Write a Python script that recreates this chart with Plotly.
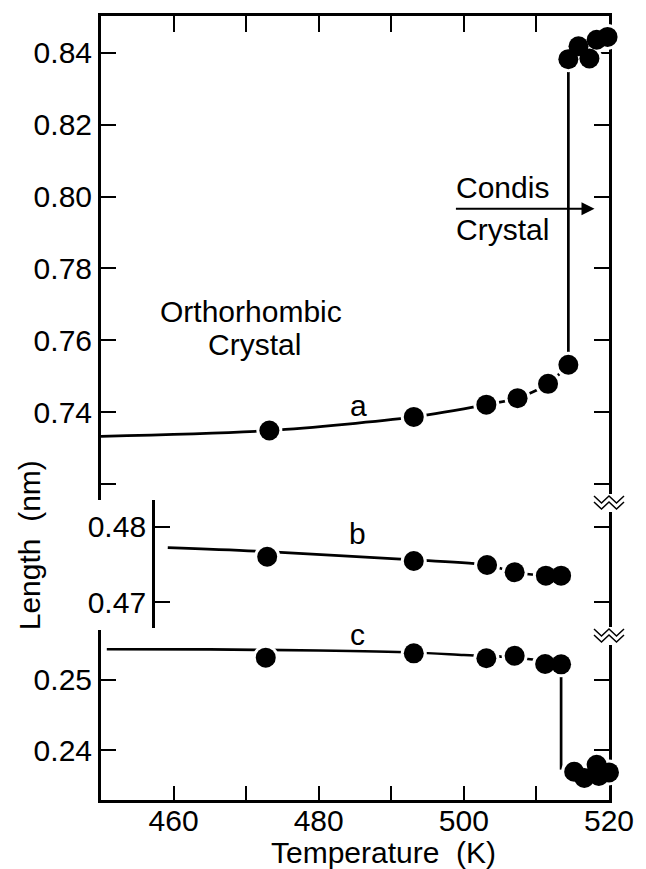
import plotly.graph_objects as go

# ---------------- data ----------------
# a-axis (top panel)
a_T = [473.2, 493.1, 503.1, 507.4, 511.6, 514.4]
a_len = [0.7349, 0.7387, 0.7421, 0.7439, 0.7479, 0.7532]
a_curve_T = [450.0, 473.2, 493.1, 503.1, 507.4, 511.6, 514.4]
a_curve_len = [0.7333, 0.7349, 0.7387, 0.7421, 0.7439, 0.7479, 0.7532]
a_condis_T = [514.4, 515.8, 517.3, 518.3, 519.8]
a_condis_len = [0.8382, 0.8418, 0.8384, 0.8436, 0.8444]
a_jump_T = [514.4, 514.4]
a_jump_len = [0.7532, 0.8382]

# b-axis (middle panel)
b_T = [472.9, 493.1, 503.2, 507.0, 511.3, 513.4]
b_len = [0.47603, 0.47546, 0.47493, 0.47397, 0.47352, 0.47352]
b_curve_T = [459.2, 472.9, 493.1, 503.2, 507.0, 511.3, 513.4]
b_curve_len = [0.47722, 0.47669, 0.47560, 0.47493, 0.47397, 0.47352, 0.47352]

# c-axis (bottom panel)
c_T = [472.7, 493.1, 503.1, 507.0, 511.2, 513.4]
c_len = [0.25319, 0.25381, 0.25310, 0.25347, 0.25229, 0.25224]
c_curve_T = [450.8, 465.0, 480.0, 493.0, 500.0, 507.0, 511.0, 513.4]
c_curve_len = [0.25439, 0.25436, 0.25421, 0.25393, 0.25357, 0.25321, 0.25271, 0.25229]
c_condis_T = [515.2, 516.6, 518.3, 518.6, 520.0]
c_condis_len = [0.2369, 0.2360, 0.2379, 0.2363, 0.2368]
c_jump_T = [513.4, 513.4]
c_jump_len = [0.25224, 0.2372]

x_ticks = [460, 470, 480, 490, 500, 510, 520]
x_ticktext = ["460", "", "480", "", "500", "", "520"]
a_ticks = [0.72, 0.74, 0.76, 0.78, 0.80, 0.82, 0.84]
a_ticktext = ["", "0.74", "0.76", "0.78", "0.80", "0.82", "0.84"]
b_ticks = [0.47, 0.48]
b_ticktext = ["0.47", "0.48"]
c_ticks = [0.24, 0.25]
c_ticktext = ["0.24", "0.25"]

# ---------------- style ----------------
FONT = "Liberation Sans, Arial, sans-serif"
FS = 30
LW = 2.7
MS = 20
HALO = 26

fig = go.Figure()


def add_panel(yax, curve_T, curve_v, pts_T, pts_v, jump_T=None, jump_v=None,
              cl_T=None, cl_v=None):
    fig.add_trace(go.Scatter(x=curve_T, y=curve_v, mode="lines", yaxis=yax,
                             line=dict(color="black", width=LW, shape="spline", smoothing=0.8),
                             hoverinfo="skip", showlegend=False, cliponaxis=False))
    if jump_T is not None:
        fig.add_trace(go.Scatter(x=jump_T, y=jump_v, mode="lines", yaxis=yax,
                                 line=dict(color="black", width=LW),
                                 hoverinfo="skip", showlegend=False, cliponaxis=False))
    allT = list(pts_T) + (list(cl_T) if cl_T else [])
    allv = list(pts_v) + (list(cl_v) if cl_v else [])
    fig.add_trace(go.Scatter(x=allT, y=allv, mode="markers", yaxis=yax,
                             marker=dict(color="white", size=HALO, line=dict(width=0)),
                             hoverinfo="skip", showlegend=False, cliponaxis=False))
    fig.add_trace(go.Scatter(x=allT, y=allv, mode="markers", yaxis=yax,
                             marker=dict(color="black", size=MS, line=dict(width=0)),
                             showlegend=False, cliponaxis=False))


add_panel("y", a_curve_T, a_curve_len, a_T, a_len, a_jump_T, a_jump_len,
          a_condis_T, a_condis_len)
add_panel("y2", b_curve_T, b_curve_len, b_T, b_len)
add_panel("y3", c_curve_T, c_curve_len, c_T, c_len, c_jump_T, c_jump_len,
          c_condis_T, c_condis_len)

# ---------------- layout ----------------
W, H = 646, 869
ml, mr, mt, mb = 101, 28, 16, 69
plot_h = H - mt - mb  # 784
plot_w = W - ml - mr  # 517


def py(pix):
    return (H - mb - pix) / plot_h


def px(pix):
    return (pix - ml) / plot_w


tickfont = dict(family=FONT, size=FS, color="black")
common_y = dict(showgrid=False, zeroline=False, showline=True, linecolor="black",
                linewidth=3, ticks="inside", ticklen=15, tickwidth=2,
                tickcolor="black", tickfont=tickfont, fixedrange=True)

fig.update_layout(
    width=W, height=H,
    margin=dict(l=ml, r=mr, t=mt, b=mb, pad=0),
    paper_bgcolor="white", plot_bgcolor="white",
    showlegend=False,
    font=dict(family=FONT, size=FS, color="black"),
    xaxis=dict(range=[450, 520], domain=[0, 1], anchor="y3", showgrid=False,
               zeroline=False, showline=True, linecolor="black", linewidth=3,
               ticks="inside", ticklen=14, tickwidth=2, tickcolor="black",
               tickvals=x_ticks, ticktext=x_ticktext, tickfont=tickfont,
               ticklabelstandoff=-8, fixedrange=True),
    xaxis2=dict(range=[450, 520], overlaying="x", anchor="y", side="top",
                showgrid=False, zeroline=False, showline=True, linecolor="black",
                linewidth=3, ticks="inside", ticklen=16, tickwidth=2,
                tickcolor="black", tickvals=x_ticks, showticklabels=False,
                fixedrange=True),
    yaxis=dict(common_y, domain=[py(500), 1.0], range=[0.71558, 0.85021],
               anchor="x", mirror="ticks", tickvals=a_ticks, ticktext=a_ticktext,
               layer="below traces"),
    yaxis2=dict(common_y, domain=[py(628), py(500)], range=[0.46660, 0.48353],
                anchor="free", position=px(154), tickvals=b_ticks,
                ticktext=b_ticktext),
    yaxis4=dict(common_y, overlaying="y2", side="right", anchor="x",
                range=[0.46660, 0.48353], tickvals=b_ticks,
                showticklabels=False),
    yaxis3=dict(common_y, domain=[0, py(630)], range=[0.23286, 0.25714],
                anchor="x", mirror="ticks", tickvals=c_ticks, ticktext=c_ticktext,
                layer="below traces"),
)

# invisible helper traces so overlay axes are drawn
fig.add_trace(go.Scatter(x=[450], y=[0.47], xaxis="x", yaxis="y4", mode="markers",
                         marker=dict(opacity=0), hoverinfo="skip", showlegend=False))
fig.add_trace(go.Scatter(x=[450], y=[0.80], xaxis="x2", yaxis="y", mode="markers",
                         marker=dict(opacity=0), hoverinfo="skip", showlegend=False))

ann = []
ann.append(dict(x=485.5, y=0.7420, xref="x", yref="y", text="a", showarrow=False,
                font=dict(size=FS)))
ann.append(dict(x=485.3, y=0.4791, xref="x", yref="y2", text="b", showarrow=False,
                font=dict(size=FS)))
ann.append(dict(x=485.3, y=0.2565, xref="x", yref="y3", text="c", showarrow=False,
                font=dict(size=FS)))
ann.append(dict(x=470.6, y=0.7680, xref="x", yref="y", text="Orthorhombic",
                showarrow=False, font=dict(size=FS)))
ann.append(dict(x=471.1, y=0.7587, xref="x", yref="y", text="Crystal",
                showarrow=False, font=dict(size=FS)))
ann.append(dict(x=498.7, y=0.8024, xref="x", yref="y", text="Condis", xanchor="left",
                showarrow=False, font=dict(size=FS)))
ann.append(dict(x=498.7, y=0.7907, xref="x", yref="y", text="Crystal", xanchor="left",
                showarrow=False, font=dict(size=FS)))
ann.append(dict(x=518.0, y=0.7966, xref="x", yref="y", ax=498.7, ay=0.7966,
                axref="x", ayref="y", text="", showarrow=True, arrowhead=2,
                arrowsize=1.3, arrowwidth=2, arrowcolor="black"))
ann.append(dict(x=px(28), y=py(545), xref="paper", yref="paper", text="Length  (nm)",
                textangle=-90, showarrow=False, xanchor="center", yanchor="middle",
                font=dict(size=FS)))
ann.append(dict(x=px(388), y=py(852), xref="paper", yref="paper",
                text="Temperature  (K)", showarrow=False, xanchor="center",
                yanchor="middle", font=dict(size=FS)))
fig.update_layout(annotations=ann)

# axis-break marks on the right-hand axis
shapes = []
for yb in (py(502), py(635)):
    shapes.append(dict(type="rect", xref="paper", yref="paper", xsizemode="pixel",
                       ysizemode="pixel", xanchor=1, yanchor=yb, x0=-4, x1=4,
                       y0=-10, y1=8, fillcolor="white", line=dict(width=0),
                       layer="above"))
    shapes.append(dict(type="path", xref="paper", yref="paper", xsizemode="pixel",
                       ysizemode="pixel", xanchor=1, yanchor=yb,
                       path="M -15,6 L -7.5,-1 L 0,6 L 7.5,-1 L 15,6",
                       line=dict(color="black", width=1.5), layer="above"))
    shapes.append(dict(type="path", xref="paper", yref="paper", xsizemode="pixel",
                       ysizemode="pixel", xanchor=1, yanchor=yb,
                       path="M -15,0 L -7.5,-7 L 0,0 L 7.5,-7 L 15,0",
                       line=dict(color="black", width=1.5), layer="above"))
fig.update_layout(shapes=shapes)

fig.write_html("out.html")
